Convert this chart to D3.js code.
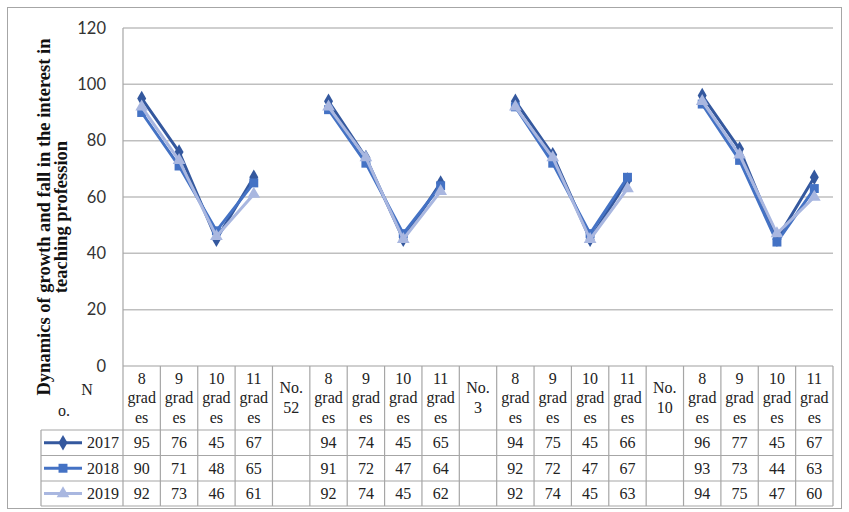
<!DOCTYPE html>
<html>
<head>
<meta charset="utf-8">
<script src="https://cdn.jsdelivr.net/npm/d3@7"></script>
<style>
  body { margin: 0; background: #fff; }
  svg { display: block; }
</style>
</head>
<body>
<svg id="chart" width="849" height="512"></svg>
<script>
// categories along the x axis (group labels sit between the grade columns)
var categories = [
  ['8', 'grad', 'es'], ['9', 'grad', 'es'], ['10', 'grad', 'es'], ['11', 'grad', 'es'],
  ['No.', '52'],
  ['8', 'grad', 'es'], ['9', 'grad', 'es'], ['10', 'grad', 'es'], ['11', 'grad', 'es'],
  ['No.', '3'],
  ['8', 'grad', 'es'], ['9', 'grad', 'es'], ['10', 'grad', 'es'], ['11', 'grad', 'es'],
  ['No.', '10'],
  ['8', 'grad', 'es'], ['9', 'grad', 'es'], ['10', 'grad', 'es'], ['11', 'grad', 'es']
];
var years = ['2017', '2018', '2019'];
var v2017 = [95, 76, 45, 67, null, 94, 74, 45, 65, null, 94, 75, 45, 66, null, 96, 77, 45, 67];
var v2018 = [90, 71, 48, 65, null, 91, 72, 47, 64, null, 92, 72, 47, 67, null, 93, 73, 44, 63];
var v2019 = [92, 73, 46, 61, null, 92, 74, 45, 62, null, 92, 74, 45, 63, null, 94, 75, 47, 60];
var yTicks = [0, 20, 40, 60, 80, 100, 120];

var series = [
  { name: years[0], values: v2017, color: '#34589e', marker: d3.symbolDiamond, size: 70 },
  { name: years[1], values: v2018, color: '#4472c4', marker: d3.symbolSquare, size: 80 },
  { name: years[2], values: v2019, color: '#a9b7e0', marker: d3.symbolTriangle, size: 70 }
];

var svg = d3.select('#chart');
var plotLeft = 123, plotRight = 833, plotTop = 28, plotBottom = 366;
var rowH = [366, 430, 455.5, 481, 506];
var legendLeft = 41;
var serif = '"Liberation Serif", "Times New Roman", serif';

// outer frame
svg.append('rect')
  .attr('x', 7.5).attr('y', 7.5)
  .attr('width', 834).attr('height', 501)
  .attr('fill', 'none').attr('stroke', '#a6a6a6').attr('stroke-width', 1);

var x = d3.scaleBand()
  .domain(d3.range(categories.length))
  .range([plotLeft, plotRight]);

var y = d3.scaleLinear()
  .domain([0, 120])
  .range([plotBottom, plotTop]);

// gridlines
svg.append('g')
  .selectAll('line')
  .data(yTicks)
  .enter().append('line')
    .attr('x1', plotLeft).attr('x2', plotRight)
    .attr('y1', function(d) { return y(d); })
    .attr('y2', function(d) { return y(d); })
    .attr('stroke', '#bfbfbf')
    .attr('stroke-width', 1.5);

// y axis
var yAxis = svg.append('g')
  .attr('transform', 'translate(' + plotLeft + ',0)')
  .call(d3.axisLeft(y).tickValues(yTicks).tickSize(0).tickPadding(17));
yAxis.select('.domain').remove();
yAxis.selectAll('text')
  .attr('font-family', 'Lato, "Open Sans", sans-serif')
  .attr('font-size', 16.5)
  .attr('fill', '#333');

// left border of plot + table
svg.append('line')
  .attr('x1', plotLeft).attr('x2', plotLeft)
  .attr('y1', plotTop).attr('y2', rowH[4])
  .attr('stroke', '#a6a6a6').attr('stroke-width', 1.2);

// y axis title
var title = svg.append('text')
  .attr('transform', 'translate(0,217) rotate(-90)')
  .attr('text-anchor', 'middle')
  .attr('font-family', serif)
  .attr('font-weight', 'bold')
  .attr('font-size', 18.5)
  .attr('fill', '#111');
title.append('tspan').attr('x', 0).attr('y', 50).text('Dynamics of growth and fall in the interest in');
title.append('tspan').attr('x', 0).attr('y', 67).text('teaching profession');

// "N o." corner label
svg.append('text').attr('x', 87).attr('y', 395).attr('text-anchor', 'middle')
  .attr('font-family', serif).attr('font-size', 16).attr('fill', '#222').text('N');
svg.append('text').attr('x', 64).attr('y', 416).attr('text-anchor', 'middle')
  .attr('font-family', serif).attr('font-size', 16).attr('fill', '#222').text('o.');

// data table grid
var grid = svg.append('g').attr('stroke', '#a6a6a6').attr('stroke-width', 1.2);
grid.selectAll('line.col')
  .data(d3.range(1, categories.length + 1))
  .enter().append('line')
    .attr('x1', function(i) { return x.step() * i + plotLeft; })
    .attr('x2', function(i) { return x.step() * i + plotLeft; })
    .attr('y1', rowH[0]).attr('y2', rowH[4]);
grid.selectAll('line.row')
  .data([1, 2, 3, 4])
  .enter().append('line')
    .attr('x1', legendLeft).attr('x2', plotRight)
    .attr('y1', function(i) { return rowH[i]; })
    .attr('y2', function(i) { return rowH[i]; });
grid.append('line')
  .attr('x1', legendLeft).attr('x2', legendLeft)
  .attr('y1', rowH[1]).attr('y2', rowH[4]);

// header labels
var header = svg.append('g')
  .attr('font-family', serif)
  .attr('font-size', 16)
  .attr('fill', '#222')
  .attr('text-anchor', 'middle');
categories.forEach(function(lines, i) {
  var cx = x(i) + x.bandwidth() / 2;
  var lh = 19.5;
  var startY = (rowH[0] + rowH[1]) / 2 - (lines.length - 1) * lh / 2 + 5;
  var t = header.append('text');
  lines.forEach(function(s, k) {
    t.append('tspan').attr('x', cx).attr('y', startY + k * lh).text(s);
  });
});

// series lines + markers
var line = d3.line()
  .defined(function(d) { return d != null; })
  .x(function(d, i) { return x(i) + x.bandwidth() / 2; })
  .y(function(d) { return y(d); });

series.forEach(function(s) {
  var g = svg.append('g');
  g.append('path')
    .datum(s.values)
    .attr('d', line)
    .attr('fill', 'none')
    .attr('stroke', s.color)
    .attr('stroke-width', 3)
    .attr('stroke-linejoin', 'round');
  g.selectAll('path.m')
    .data(s.values.map(function(v, i) { return { v: v, i: i }; }).filter(function(d) { return d.v != null; }))
    .enter().append('path')
      .attr('class', 'm')
      .attr('d', d3.symbol().type(s.marker).size(s.size))
      .attr('transform', function(d) {
        return 'translate(' + (x(d.i) + x.bandwidth() / 2) + ',' + y(d.v) + ')';
      })
      .attr('fill', s.color);
});

// table rows: legend key + values
series.forEach(function(s, r) {
  var cy = (rowH[r + 1] + rowH[r + 2]) / 2;
  svg.append('line')
    .attr('x1', 44).attr('x2', 82)
    .attr('y1', cy).attr('y2', cy)
    .attr('stroke', s.color).attr('stroke-width', 3);
  svg.append('path')
    .attr('d', d3.symbol().type(s.marker).size(s.size)())
    .attr('transform', 'translate(63,' + cy + ')')
    .attr('fill', s.color);
  svg.append('text')
    .attr('x', 119).attr('y', cy + 5.5)
    .attr('text-anchor', 'end')
    .attr('font-family', serif).attr('font-size', 16).attr('fill', '#222')
    .text(s.name);
  svg.append('g')
    .selectAll('text')
    .data(s.values)
    .enter().append('text')
      .attr('x', function(d, i) { return x(i) + x.bandwidth() / 2; })
      .attr('y', cy + 5.5)
      .attr('text-anchor', 'middle')
      .attr('font-family', serif).attr('font-size', 16).attr('fill', '#222')
      .text(function(d) { return d == null ? '' : d; });
});
</script>
</body>
</html>
